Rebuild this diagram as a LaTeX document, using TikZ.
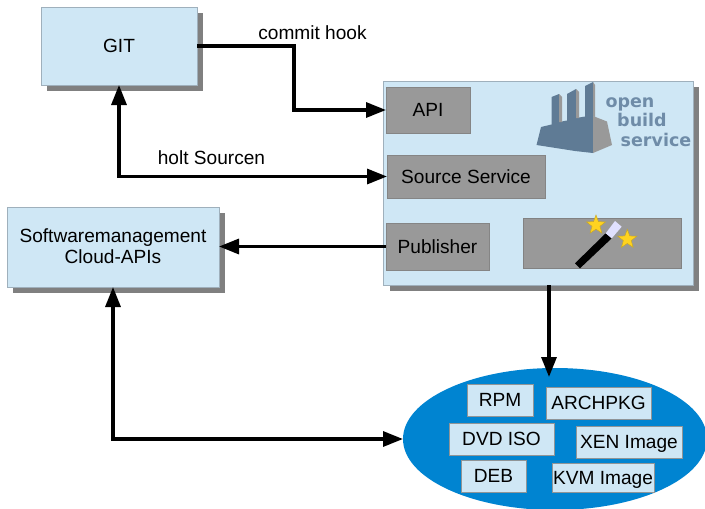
\documentclass[tikz,border=0pt]{standalone}
\usepackage{fontspec}
\setmainfont{Liberation Sans}
\newfontfamily\logofont{DejaVu Sans}
\usetikzlibrary{arrows.meta,shapes.geometric,shadows}
\definecolor{paleblue}{HTML}{CFE7F5}
\definecolor{edgeblue}{HTML}{9FB0BC}
\definecolor{midgray}{HTML}{999999}
\definecolor{edgegray}{HTML}{858585}
\definecolor{shadowgray}{HTML}{808080}
\definecolor{ovalblue}{HTML}{0084D1}
\definecolor{logoblue}{HTML}{5F7B95}
\definecolor{logotext}{HTML}{6F8CA8}
\definecolor{stargold}{HTML}{FFD320}
\definecolor{staredge}{HTML}{C8A828}
\tikzset{
  basebox/.style={rectangle,inner sep=0pt,outer sep=0pt,line width=0.9pt,align=center,
    font=\fontsize{19.1}{21}\selectfont,text height=13.5pt,text depth=0pt},
  bluebox/.style={basebox,fill=paleblue,draw=edgeblue},
  shadowbox/.style={bluebox,general shadow={shadow xshift=6pt,shadow yshift=-6pt,fill=shadowgray}},
  graybox/.style={basebox,fill=midgray,draw=edgegray},
  label/.style={inner sep=0pt,anchor=base,font=\fontsize{19.1}{21}\selectfont},
  logolabel/.style={inner sep=0pt,anchor=base,text=logotext,font=\logofont\bfseries\fontsize{17.5}{18}\selectfont},
  conn/.style={line width=3.2pt,draw=black,line join=miter},
  tip/.style={-{Triangle[length=20pt,width=15pt]}},
  tips/.style={{Triangle[length=20pt,width=15pt]}-{Triangle[length=20pt,width=15pt]}},
  wandstar/.style={star,star points=5,star point ratio=2.4,minimum size=20pt,inner sep=0pt,fill=stargold,draw=staredge,line width=0.5pt}
}
\begin{document}
\begin{tikzpicture}[x=1pt,y=-1pt]
\useasboundingbox (0,0) rectangle (705,509);
\fill[white] (0,0) rectangle (705,509);
% Boxes
\node[shadowbox,minimum width=156pt,minimum height=78pt] (git) at (119,46) {GIT};
\node[shadowbox,minimum width=309.5pt,minimum height=204pt] (obs) at (538.25,183) {};
\node[shadowbox,minimum width=212pt,minimum height=80pt,text height=,text depth=] (swm) at (113,247) {\raisebox{1pt}{Softwaremanagement}\\\raisebox{1pt}{Cloud-APIs}};
\node[graybox,minimum width=84pt,minimum height=46pt] (api) at (428,110) {API};
\node[graybox,minimum width=158pt,minimum height=43pt] (src) at (466,176.5) {Source Service};
\node[graybox,minimum width=103pt,minimum height=47pt] (pub) at (437.5,246.5) {Publisher};
\node[graybox,draw=midgray!85!black,minimum width=158pt,minimum height=50pt] (wandbox) at (602,243) {};
% Logo
\fill[logoblue] (536.5,145) -- (541,127) -- (551.5,124.5) -- (551.5,97) -- (559,94) -- (559,122) -- (567,120.5) -- (567,94) -- (576,89) -- (576,118) -- (585,116.5) -- (585,86) -- (593,82) -- (593,153) -- (575,151) -- cycle;
\fill[midgray] (593,116) -- (607,121.5) -- (612,145) -- (593,153) -- cycle;
\fill[midgray] (559,94) -- (562,97) -- (562,122) -- (559,122) -- cycle;
\fill[midgray] (576,89) -- (579,92) -- (579,118) -- (576,118) -- cycle;
\fill[midgray] (593,82) -- (595,85) -- (595,117) -- (593,116) -- cycle;
\node[logolabel] (logoa) at (630,107) {open};
\node[logolabel] (logob) at (642,126) {build};
\node[logolabel] (logoc) at (656,146) {service};
% Wand
\fill[black] (575,263.3) -- (580,268.3) -- (611.7,238.3) -- (605.7,233.3) -- cycle;
\fill[white!88!blue] (605.7,233.3) -- (611.7,238.3) -- (621.7,226.7) -- (615,221) -- cycle;
\node[wandstar] (stara) at (596,225) {};
\node[wandstar] (starb) at (627.3,239.3) {};
% Packages
\node[ellipse,fill=ovalblue,inner sep=0pt,outer sep=0pt,minimum width=304pt,minimum height=142pt] (oval) at (555,439) {};
\node[bluebox,draw=shadowgray!80!paleblue,minimum width=66pt,minimum height=32pt] (rpm) at (500,400) {RPM};
\node[bluebox,draw=shadowgray!80!paleblue,minimum width=105pt,minimum height=32pt] (arch) at (598.5,403) {ARCHPKG};
\node[bluebox,draw=shadowgray!80!paleblue,minimum width=105pt,minimum height=32pt] (dvd) at (501.5,439) {DVD ISO};
\node[bluebox,draw=shadowgray!80!paleblue,minimum width=106pt,minimum height=32pt] (xen) at (629,442) {XEN Image};
\node[bluebox,draw=shadowgray!80!paleblue,minimum width=65pt,minimum height=32pt] (deb) at (493.5,476) {DEB};
\node[bluebox,draw=shadowgray!80!paleblue,minimum width=102pt,minimum height=29pt] (kvm) at (603,477.5) {KVM Image};
% Labels
\node[label] (hook) at (312.5,39) {commit hook};
\node[label] (holt) at (211.5,164.5) {holt Sourcen};
% Connectors
\coordinate (obsout) at (549,285);
\coordinate (ovalin) at (549,377);
\coordinate (hookbend) at (294,46);
\draw[conn,tip] (git.east) -- (hookbend) |- (api.west);
\draw[conn,tips] (git.south) |- (src.west);
\draw[conn,tip] (pub.west) -- (swm.east |- pub.west);
\draw[conn,tip] (obsout) -- (ovalin);
\draw[conn,tips] (swm.south) |- (oval.west);
\end{tikzpicture}
\end{document}
